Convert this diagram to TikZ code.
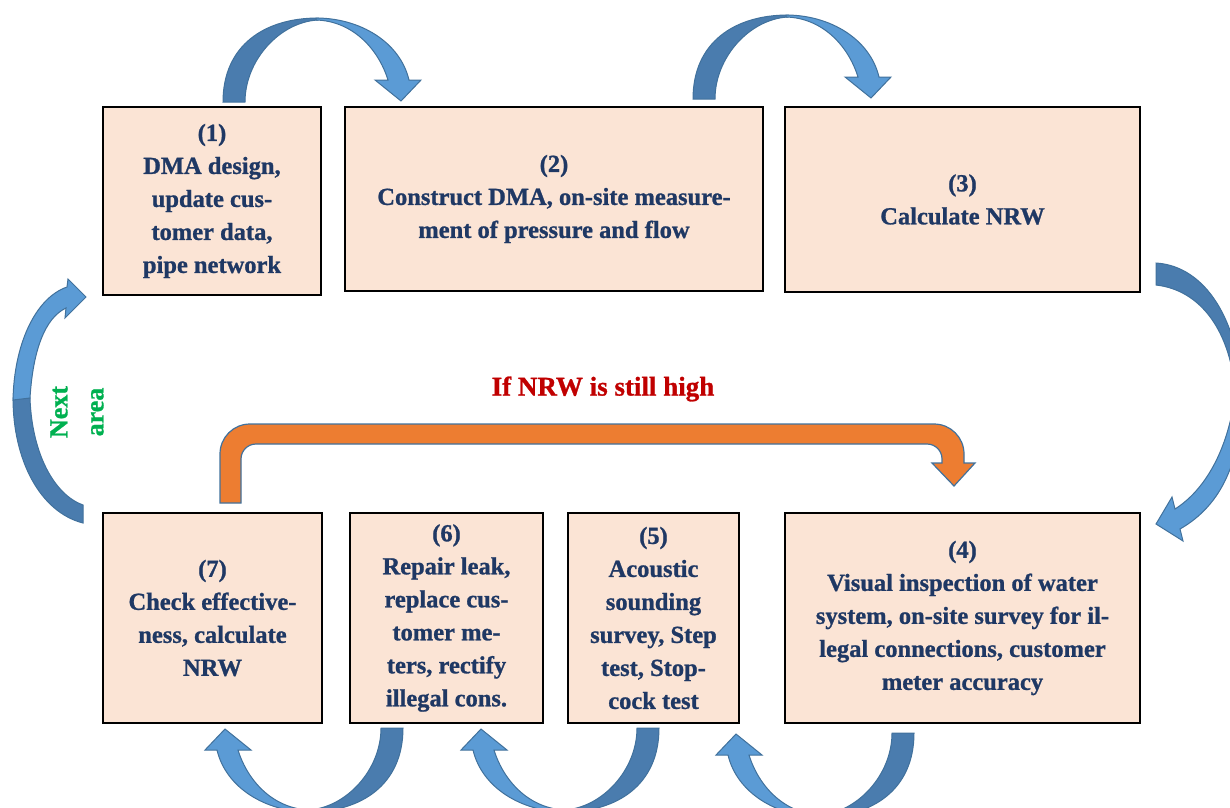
\documentclass[tikz,border=0pt]{standalone}
\usepackage{fontspec}
\setmainfont{Liberation Serif}[BoldFeatures={FakeBold=1}]
\usetikzlibrary{positioning}
\definecolor{boxfill}{HTML}{FBE4D5}
\definecolor{stepnavy}{HTML}{1F3864}
\definecolor{arrowdark}{HTML}{4A7CAE}
\definecolor{arrowlight}{HTML}{5B9BD5}
\definecolor{arrowedge}{HTML}{41719C}
\definecolor{loopfill}{HTML}{ED7D31}
\definecolor{alertred}{HTML}{C00000}
\definecolor{areagreen}{HTML}{00B050}

% one bent block arrow, tail on the left, head on the right
\newcommand{\BendArrow}{%
  \filldraw[darkpart] (223,102) .. controls (223,45) and (265,18) .. (318,18)
    -- (318,20) .. controls (280,22) and (245,60) .. (245,102) -- cycle;
  \filldraw[lightpart] (316,18) .. controls (360,18) and (400,42) .. (409,80)
    -- (421,80) -- (401,101) -- (375,80) -- (388,80)
    .. controls (378,48) and (352,21) .. (316,20) -- cycle;
}

\begin{document}
\begin{tikzpicture}[
  x=1pt, y=-1pt,
  stepbox/.style={draw, line width=1.5pt, outer sep=0pt, fill=boxfill, align=center, text=stepnavy, inner sep=4pt,
    font=\fontsize{24.5}{33}\selectfont\bfseries},
  darkpart/.style={fill=arrowdark, draw=arrowedge, line width=1pt},
  lightpart/.style={fill=arrowlight, draw=arrowedge, line width=1pt}
]
  \useasboundingbox (0,0) rectangle (1230,807);
  \clip (0,0) rectangle (1230,807);

  % top row
  \node[stepbox, minimum width=218pt, minimum height=188pt, anchor=north west] (dma) at (103,107)
    {(1)\\DMA design,\\update cus-\\tomer data,\\pipe network};
  \node[stepbox, minimum width=418pt, minimum height=184pt, right=24pt of dma.north east, anchor=north west] (build)
    {(2)\\Construct DMA, on-site measure-\\ment of pressure and flow};
  \node[stepbox, minimum width=355pt, minimum height=185pt, right=22pt of build.north east, anchor=north west] (calc)
    {(3)\\Calculate NRW};

  % bottom row
  \node[stepbox, minimum width=219pt, minimum height=210pt, anchor=north west] (check) at (103,513)
    {(7)\\Check effective-\\ness, calculate\\NRW};
  \node[stepbox, minimum width=193pt, minimum height=210pt, right=28pt of check.north east, anchor=north west] (repair)
    {(6)\\Repair leak,\\replace cus-\\tomer me-\\ters, rectify\\illegal cons.};
  \node[stepbox, minimum width=171pt, minimum height=210pt, right=25pt of repair.north east, anchor=north west] (sound)
    {(5)\\Acoustic\\sounding\\survey, Step\\test, Stop-\\cock test};
  \node[stepbox, minimum width=355pt, minimum height=210pt, right=46pt of sound.north east, anchor=north west] (inspect)
    {(4)\\Visual inspection of water\\system, on-site survey for il-\\legal connections, customer\\meter accuracy};

  % bent arrows over the top row
  \BendArrow
  \begin{scope}[shift={(470,-3)}]
    \BendArrow
  \end{scope}

  % bent arrows under the bottom row
  \begin{scope}[rotate around={180:(313,415)}]
    \BendArrow
  \end{scope}
  \begin{scope}[rotate around={180:(441,415)}]
    \BendArrow
  \end{scope}
  \begin{scope}[rotate around={180:(568.5,417.5)}]
    \BendArrow
  \end{scope}

  % right side, (3) down to (4)
  \filldraw[darkpart] (1156,263) .. controls (1205,266) and (1240,320) .. (1242,400)
    -- (1236,400) .. controls (1232,330) and (1200,290) .. (1156,285) -- cycle;
  \filldraw[lightpart] (1241,395) .. controls (1242,460) and (1222,505) .. (1180,529)
    -- (1183,541) -- (1156,524) -- (1172,497) -- (1175,509)
    .. controls (1205,490) and (1228,450) .. (1235,395) -- cycle;

  % left side, (7) up to (1)
  \filldraw[darkpart] (13,398) .. controls (13,460) and (40,512) .. (83,523)
    -- (83,505) .. controls (55,495) and (32,455) .. (30,398) -- cycle;
  \filldraw[lightpart] (67,287) .. controls (35,298) and (14,345) .. (13,400)
    -- (30,398) .. controls (33,350) and (45,318) .. (66,308)
    -- (65,318) -- (86,297) -- (68,279) -- cycle;

  % loop back arrow
  \filldraw[fill=loopfill, draw=arrowedge, line width=1.2pt]
    (220,503) -- (220,454) .. controls (220,437.4) and (233.4,424) .. (250,424)
    -- (934,424) .. controls (950.6,424) and (964,437.4) .. (964,454)
    -- (964,463) -- (975,463) -- (954,486) -- (932,463) -- (942,463) -- (942,459)
    .. controls (942,450.7) and (935.3,444) .. (927,444)
    -- (256,444) .. controls (247.7,444) and (241,450.7) .. (241,459) -- (241,503) -- cycle;

  \node[text=alertred, font=\fontsize{27}{30}\selectfont\bfseries] (still) at (603,389) {If NRW is still high};
  \node[text=areagreen, rotate=90, align=center, font=\fontsize{26}{36}\selectfont\bfseries] (next) at (77,412) {Next\\area};
\end{tikzpicture}
\end{document}
